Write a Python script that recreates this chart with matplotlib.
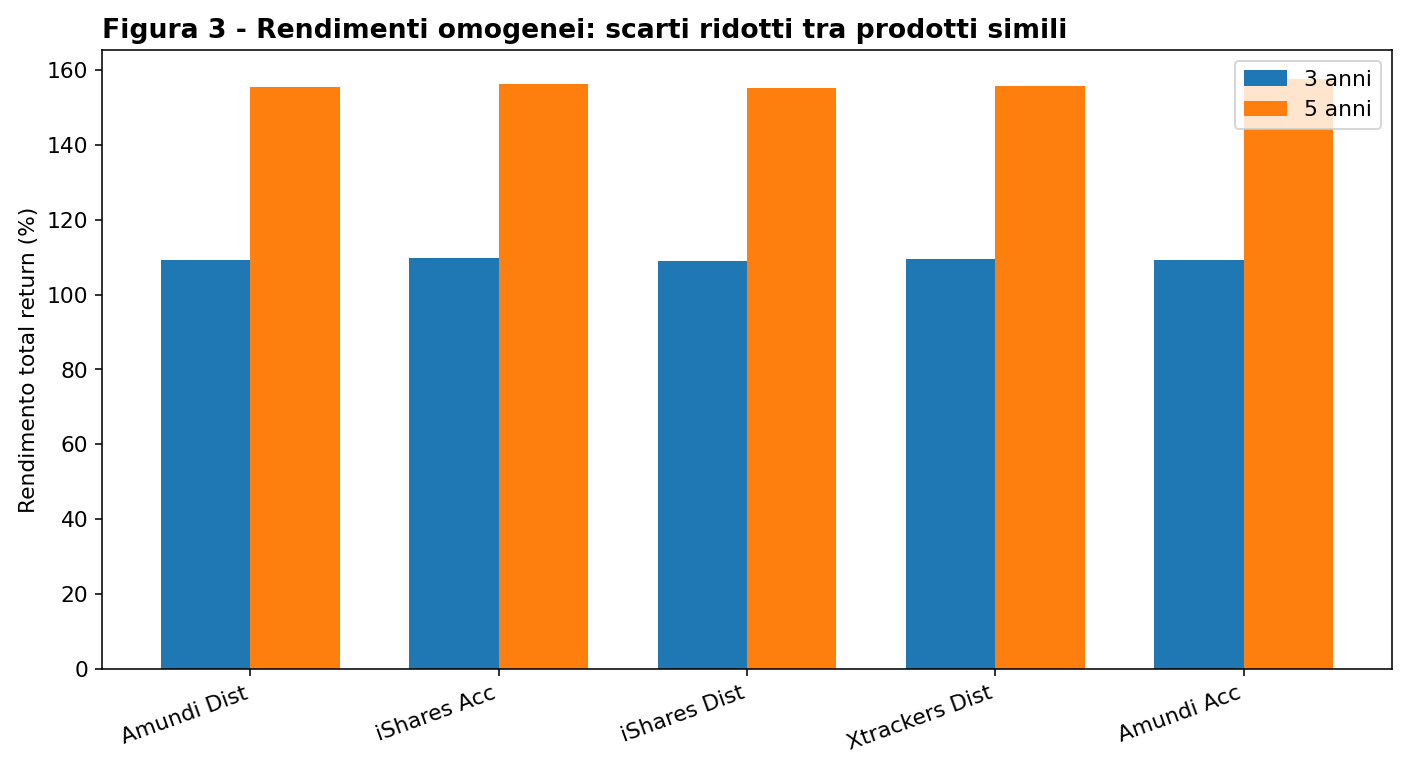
import matplotlib
matplotlib.use("Agg")
import matplotlib.pyplot as plt
import numpy as np

categories = ["Amundi Dist", "iShares Acc", "iShares Dist", "Xtrackers Dist", "Amundi Acc"]
rend_3y = [109.1, 109.7, 108.9, 109.4, 109.1]
rend_5y = [155.5, 156.3, 155.0, 155.7, 157.4]
series_labels = ["3 anni", "5 anni"]

plt.rcParams["font.size"] = 11.1

fig = plt.figure(figsize=(10, 5.5), dpi=141.1)
ax = fig.add_axes([0.0723, 0.1375, 0.9142, 0.7981])

x = np.arange(len(categories))
w = 0.36
ax.bar(x - w / 2, rend_3y, w, label=series_labels[0], color="#1f77b4")
ax.bar(x + w / 2, rend_5y, w, label=series_labels[1], color="#ff7f0e")

ax.set_xticks(x)
ax.set_xticklabels(categories, rotation=20, ha="right")
ax.set_ylabel("Rendimento total return (%)")
ax.set_title("Figura 3 - Rendimenti omogenei: scarti ridotti tra prodotti simili",
             loc="left", fontweight="bold", fontsize=13.6)
ax.legend(loc="upper right")

fig.savefig("out.png", dpi=141.1)
